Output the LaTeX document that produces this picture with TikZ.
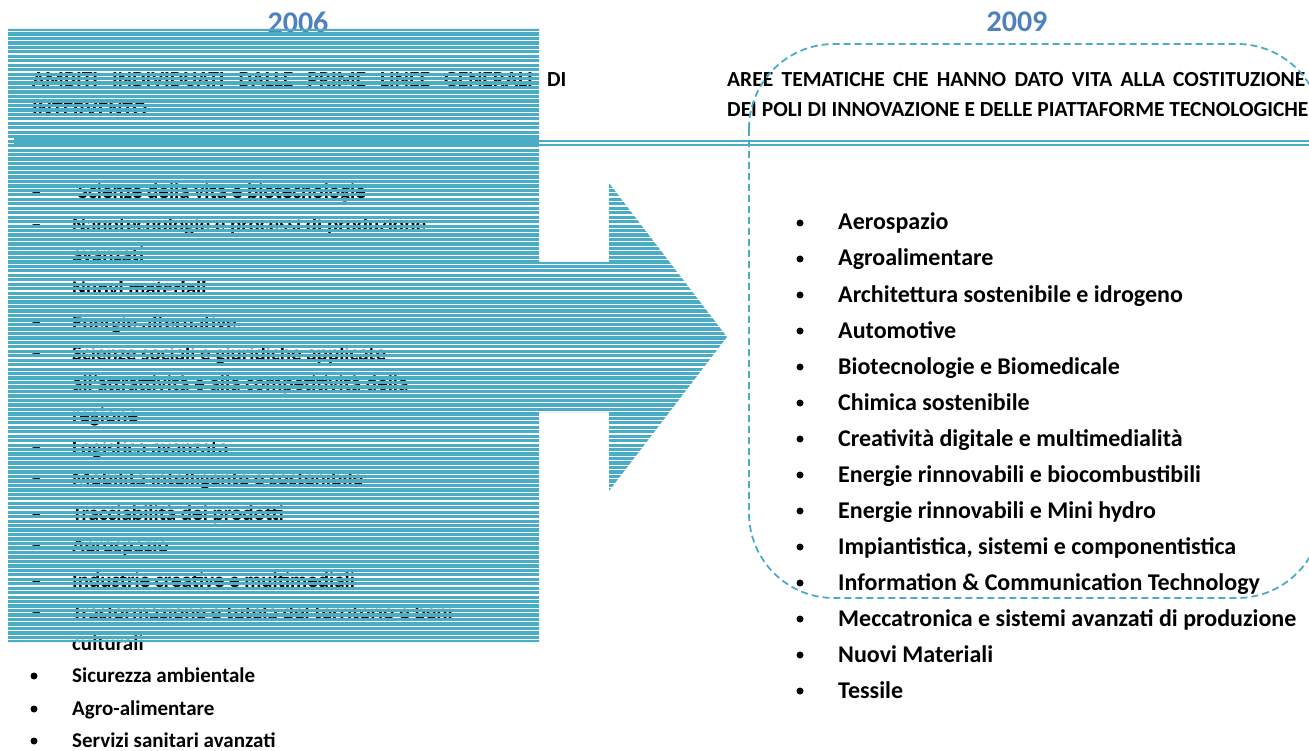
\documentclass[tikz,border=0pt]{standalone}
\usepackage{fontspec}
\setmainfont{Carlito}
\definecolor{stripe}{HTML}{4BACC6}
\definecolor{yearblue}{HTML}{4F81BD}
\begin{document}
\begin{tikzpicture}[x=1pt,y=-1pt,
  lt/.style={anchor=base west, inner sep=0, font=\fontsize{21}{31}\selectfont\bfseries},
  rt/.style={anchor=base west, inner sep=0, font=\fontsize{24}{36}\selectfont\bfseries},
  hd/.style={anchor=base west, inner sep=0, font=\fontsize{21.5}{30}\selectfont\bfseries},
  yr/.style={inner sep=0, font=\fontsize{30}{36}\selectfont\bfseries, text=yearblue},
  dot/.style={circle, fill=black, inner sep=0, minimum size=7pt},
  dsh/.style={anchor=base west, inner sep=0, font=\fontsize{21}{31}\selectfont\bfseries},
  stripeline/.style={draw=stripe, line width=3.27pt},
  dblline/.style={draw=stripe, line width=1.8pt},
  frame/.style={draw=stripe, line width=1.8pt, dash pattern=on 7pt off 4pt, rounded corners=85pt}]
\useasboundingbox (0,0) rectangle (1309,751);
\clip (0,0) rectangle (1309,751);

% years
\node[yr] (y2006) at (298,22) {2006};
\node[yr] (y2009) at (1017,22) {2009};

% left header (under stripes)
\node[hd] (lh1) at (32,87) {\makebox[534pt][s]{AMBITI INDIVIDUATI DALLE PRIME LINEE GENERALI DI}};
\node[hd] (lh2) at (32,117) {INTERVENTO};

% left list
\foreach \yy in {192,225,288,322,353,447,478,513,545,580,612}
  \node[dsh] at (31,\yy+7) {–};
\node[lt] (l1)  at (78,199)  {Scienze della vita e biotecnologie};
\node[lt] (l2a) at (72,232)  {Nanotecnologie e processi di produzione};
\node[lt] (l2b) at (72,262)  {avanzati};
\node[lt] (l3)  at (72,295)  {Nuovi materiali};
\node[lt] (l4)  at (72,329)  {Energie alternative};
\node[lt] (l5a) at (72,360)  {Scienze sociali e giuridiche applicate};
\node[lt] (l5b) at (72,390)  {all'attrattività e alla competitività della};
\node[lt] (l5c) at (72,422)  {regione};
\node[lt] (l6)  at (72,454)  {Logistica avanzata};
\node[lt] (l7)  at (72,485)  {Mobilità intelligente e sostenibile};
\node[lt] (l8)  at (72,520)  {Tracciabilità dei prodotti};
\node[lt] (l9)  at (72,552)  {Aerospazio};
\node[lt] (l10) at (72,587)  {Industrie creative e multimediali};
\node[lt] (l11a) at (72,619) {Trasformazione e tutela del territorio e beni};
\node[lt] (l11b) at (72,650) {culturali};
\node[dot] (b12) at (34,676) {};
\node[lt] (l12) at (72,682)  {Sicurezza ambientale};
\node[dot] (b13) at (34,709) {};
\node[lt] (l13) at (72,715)  {Agro-alimentare};
\node[dot] (b14) at (34,741) {};
\node[lt] (l14) at (72,747)  {Servizi sanitari avanzati};

% striped arrow shape
\begin{scope}
  \clip (8,29) -- (539,29) -- (539,262) -- (609,262) -- (609,183) -- (727,337)
        -- (609,491) -- (609,412) -- (539,412) -- (539,642) -- (8,642) -- cycle;
  \foreach \k in {0,...,138}
    \path[stripeline] (0,{29.465+4.47*\k}) -- (740,{29.465+4.47*\k});
  \fill[stripe] (14,137.3) rectangle (539,146.2);
\end{scope}

% double rule
\path[dblline] (539,141) -- (1309,141);
\path[dblline] (539,145.3) -- (1309,145.3);

% right header
\node[hd] (rh1) at (727,87) {\makebox[578pt][s]{AREE TEMATICHE CHE HANNO DATO VITA ALLA COSTITUZIONE}};
\node[hd] (rh2) at (727,117) {DEI POLI DI INNOVAZIONE E DELLE PIATTAFORME TECNOLOGICHE};

% right list
\foreach \i/\t in {0/Aerospazio,1/Agroalimentare,2/Architettura sostenibile e idrogeno,3/Automotive,
  4/Biotecnologie e Biomedicale,5/Chimica sostenibile,6/Creatività digitale e multimedialità,
  7/Energie rinnovabili e biocombustibili,8/Energie rinnovabili e Mini hydro,
  9/{Impiantistica, sistemi e componentistica},10/Information \& Communication Technology,
  11/Meccatronica e sistemi avanzati di produzione,12/Nuovi Materiali,13/Tessile} {
  \node[dot] (rb\i) at (800,{223+36*\i}) {};
  \node[rt] (r\i) at (838,{230+36*\i}) {\t};
}

% dashed rounded frame
\path[frame] (749,44) rectangle (1322,598);
\end{tikzpicture}
\end{document}
